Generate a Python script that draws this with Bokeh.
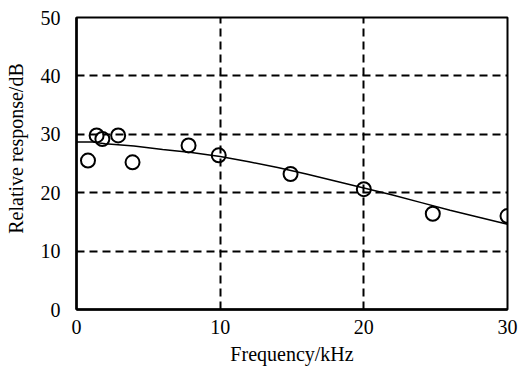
from bokeh.plotting import figure
from bokeh.models import Range1d, FixedTicker
from bokeh.embed import file_html
from bokeh.resources import INLINE

# measured points
freq_khz = [0.8, 1.4, 1.8, 2.9, 3.9, 7.8, 9.9, 14.9, 20.0, 24.8, 30.0]
response_db = [25.5, 29.8, 29.2, 29.8, 25.2, 28.1, 26.4, 23.2, 20.6, 16.4, 16.0]

# fitted curve
fit_x = [0, 1.2, 1.6, 2, 4, 6, 8, 10, 12, 14, 16, 18, 20, 22, 24, 26, 28, 30]
fit_y = [28.7, 28.7, 28.5, 28.4, 28.0, 27.4, 26.9, 26.2, 25.3, 24.3, 23.2, 22.0, 20.8, 19.6, 18.3, 17.0, 15.8, 14.6]

x_ticks = [0, 10, 20, 30]
y_ticks = [0, 10, 20, 30, 40, 50]

FONT = "'Liberation Serif', 'Times New Roman', serif"

p = figure(width=520, height=368, output_backend="svg", toolbar_location=None,
           x_range=Range1d(0, 30), y_range=Range1d(0, 50),
           min_border_left=76, min_border_right=13, min_border_top=17, min_border_bottom=59)
p.background_fill_color = "white"
p.border_fill_color = "white"
p.outline_line_color = "black"
p.outline_line_width = 2

p.xaxis.ticker = FixedTicker(ticks=x_ticks)
p.yaxis.ticker = FixedTicker(ticks=y_ticks)
for ax in (p.xaxis, p.yaxis):
    ax.axis_line_color = "black"
    ax.axis_line_width = 2.5
    ax.major_tick_line_color = None
    ax.minor_tick_line_color = None
    ax.major_label_text_font = FONT
    ax.major_label_text_font_size = "20px"
    ax.major_label_text_color = "black"
    ax.axis_label_text_font = FONT
    ax.axis_label_text_font_size = "20px"
    ax.axis_label_text_font_style = "normal"
    ax.axis_label_text_color = "black"

p.xaxis.axis_label = "Frequency/kHz"
p.yaxis.axis_label = "\u00a0" * 6 + "Relative response/dB"
p.xaxis.major_label_standoff = 4
p.yaxis.major_label_standoff = 10
p.xaxis.axis_label_standoff = 6
p.yaxis.axis_label_standoff = 11

for g in (p.xgrid, p.ygrid):
    g.grid_line_color = "black"
    g.grid_line_width = 2
    g.grid_line_dash = "8 5"
    g.grid_line_alpha = 1

p.line(fit_x, fit_y, line_color="black", line_width=1.5)
p.scatter(freq_khz, response_db, marker="circle", size=14, fill_color=None,
          line_color="black", line_width=2)

open("out.html", "w").write(file_html(p, INLINE))
